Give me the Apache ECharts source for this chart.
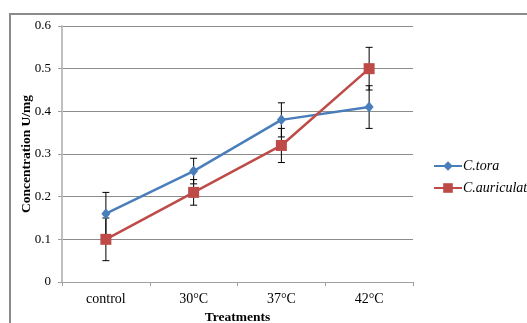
<!DOCTYPE html>
<html>
<head>
<meta charset="utf-8">
<script src="https://cdn.jsdelivr.net/npm/echarts@6/dist/echarts.min.js"></script>
<style>
  html, body { margin: 0; padding: 0; background: #fff; }
  #chart { width: 527px; height: 323px; }
</style>
</head>
<body>
<div id="chart"></div>
<script>
const categories = ["control", "30°C", "37°C", "42°C"];
const toraValues = [0.16, 0.26, 0.38, 0.41];
const toraErrors = [0.05, 0.03, 0.04, 0.05];
const auriculataValues = [0.10, 0.21, 0.32, 0.50];
const auriculataErrors = [0.05, 0.03, 0.04, 0.05];

const BLUE = "#4a7ebb";
const RED = "#be4b48";
const SERIF = "'Liberation Serif', 'DejaVu Serif', serif";

const errorData = (values, errors) =>
  values.map((v, i) => [i, v - errors[i], v + errors[i]]);

const renderError = (params, api) => {
  const x = api.value(0);
  const low = api.coord([x, api.value(1)]);
  const high = api.coord([x, api.value(2)]);
  const cap = 3.5;
  const style = { stroke: "#000", lineWidth: 1 };
  return {
    type: "group",
    children: [
      { type: "line", shape: { x1: low[0], y1: low[1], x2: high[0], y2: high[1] }, style },
      { type: "line", shape: { x1: low[0] - cap, y1: low[1], x2: low[0] + cap, y2: low[1] }, style },
      { type: "line", shape: { x1: high[0] - cap, y1: high[1], x2: high[0] + cap, y2: high[1] }, style },
    ],
  };
};

const chart = echarts.init(document.getElementById("chart"));
chart.setOption({
  animation: false,
  graphic: [
    {
      type: "rect",
      shape: { x: 10, y: 14, width: 600, height: 400 },
      style: { fill: "none", stroke: "#8a8a8a", lineWidth: 2 },
      silent: true,
    },
  ],
  grid: { left: 62, right: 114, top: 26, bottom: 41, outerBoundsMode: "none" },
  legend: {
    orient: "vertical",
    left: 433,
    top: 159,
    padding: 0,
    itemGap: 8,
    itemWidth: 28,
    itemHeight: 12,
    textStyle: { fontFamily: SERIF, fontStyle: "italic", fontSize: 14, color: "#000", padding: [0, 0, 0, -4] },
    data: ["C.tora", "C.auriculata"],
  },
  xAxis: {
    type: "category",
    data: categories,
    boundaryGap: true,
    name: "Treatments",
    nameLocation: "middle",
    nameGap: 29,
    nameMoveOverlap: false,
    nameTextStyle: { fontFamily: SERIF, fontWeight: "bold", fontSize: 13.5, color: "#000" },
    axisLine: { lineStyle: { color: "#a0a0a0", width: 1 } },
    axisTick: { show: true, length: 4, lineStyle: { color: "#a0a0a0" } },
    axisLabel: { fontFamily: SERIF, fontSize: 14, color: "#000", margin: 10 },
  },
  yAxis: {
    type: "value",
    min: 0,
    max: 0.6,
    interval: 0.1,
    name: "Concentration U/mg",
    nameLocation: "middle",
    nameGap: 28,
    nameMoveOverlap: false,
    nameTextStyle: { fontFamily: SERIF, fontWeight: "bold", fontSize: 13.5, color: "#000" },
    axisLine: { show: true, lineStyle: { color: "#c0c0c0", width: 2 } },
    axisTick: { show: true, length: 4, lineStyle: { color: "#a0a0a0" } },
    axisLabel: {
      fontFamily: SERIF,
      fontSize: 13,
      color: "#000",
      margin: 11,
      formatter: (v) => (v === 0 ? "0" : v.toFixed(1)),
    },
    splitLine: { lineStyle: { color: "#8c8c8c", width: 1 } },
  },
  series: [
    {
      type: "custom",
      renderItem: renderError,
      data: errorData(toraValues, toraErrors),
      encode: { x: 0, y: [1, 2] },
      silent: true,
      z: 2,
    },
    {
      type: "custom",
      renderItem: renderError,
      data: errorData(auriculataValues, auriculataErrors),
      encode: { x: 0, y: [1, 2] },
      silent: true,
      z: 2,
    },
    {
      name: "C.tora",
      type: "line",
      data: toraValues,
      symbol: "diamond",
      symbolSize: [9, 11],
      itemStyle: { color: BLUE },
      lineStyle: { color: BLUE, width: 2.5 },
      z: 3,
    },
    {
      name: "C.auriculata",
      type: "line",
      data: auriculataValues,
      symbol: "rect",
      symbolSize: 11,
      itemStyle: { color: RED },
      lineStyle: { color: RED, width: 2.5 },
      z: 3,
    },
  ],
});
</script>
</body>
</html>
